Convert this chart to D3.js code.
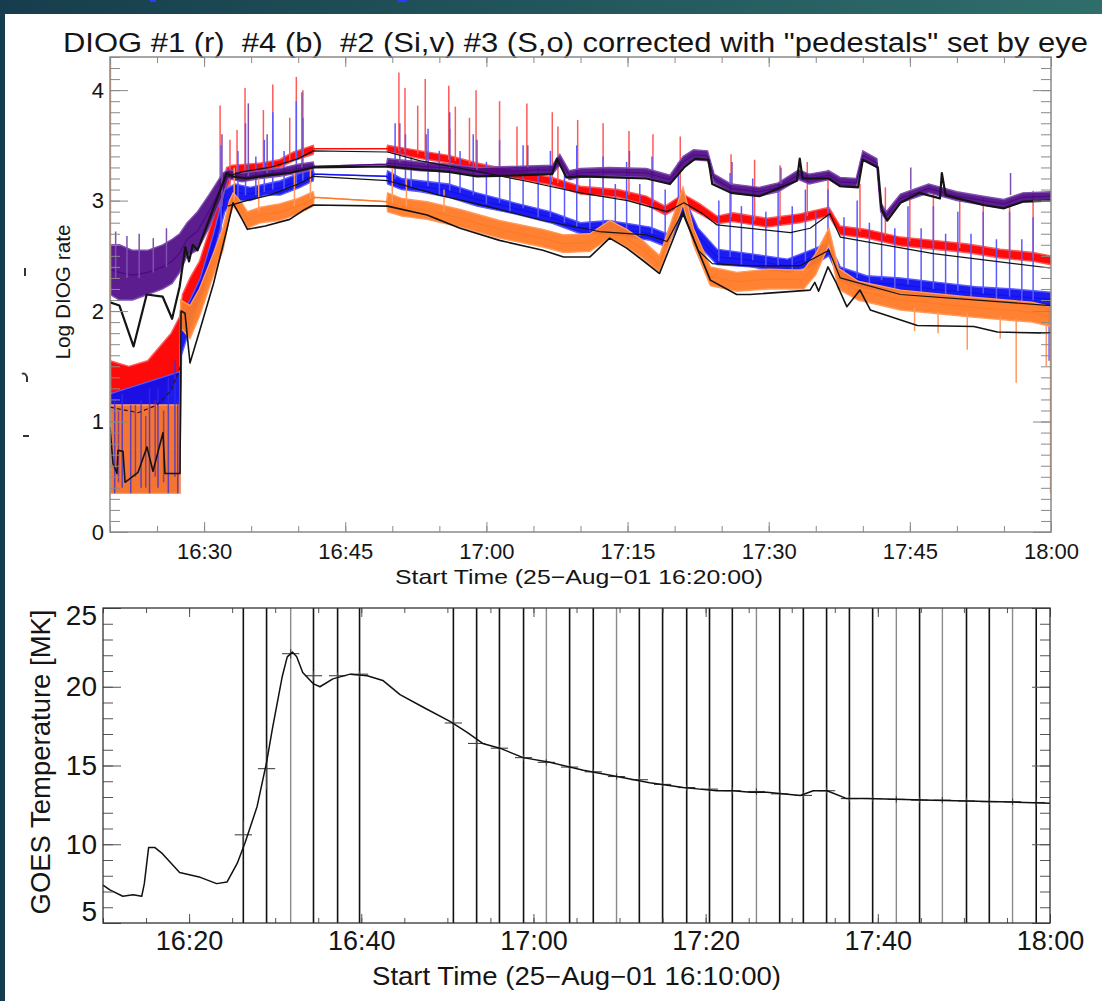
<!DOCTYPE html>
<html>
<head>
<meta charset="utf-8">
<script src="https://cdn.jsdelivr.net/npm/d3@7"></script>
<style>
  body { margin: 0; background: #fff; }
  svg { display: block; }
  text { font-family: "Liberation Sans", Arial, Helvetica, sans-serif; fill: #151515; }
</style>
</head>
<body>
<svg id="chart" width="1102" height="1001"></svg>
<script>
/* ---------- top panel data: t = minutes after 16:20, log DIOG rate ---------- */
// noisy bands as [t, low, high]
const redBand = [
  [0, 1.05, 1.55], [2, 1.02, 1.5], [4, 1.05, 1.55], [5.5, 1.15, 1.7], [6.5, 1.3, 1.8],
  [7.4, 1.45, 1.95], [7.7, 1.9, 2.15], [8.5, 2.0, 2.3], [9.5, 2.2, 2.45], [11, 2.6, 2.85],
  [12.4, 3.1, 3.3], [13, 3.22, 3.32], [14.5, 3.25, 3.33], [16, 3.27, 3.34], [18, 3.3, 3.37],
  [19.5, 3.36, 3.44], [21.6, 3.42, 3.5], [21.7, 3.47, 3.47], [29.4, 3.47, 3.47],
  [29.5, 3.44, 3.5], [33, 3.38, 3.45], [36, 3.34, 3.41], [39, 3.27, 3.34], [43, 3.2, 3.27],
  [47, 3.14, 3.21], [50, 3.06, 3.13], [54, 3.03, 3.1], [57, 2.96, 3.04], [59, 2.87, 2.95],
  [60.9, 2.96, 3.06], [62.7, 2.88, 2.97], [64.5, 2.79, 2.86], [66.2, 2.81, 2.89],
  [69.8, 2.76, 2.84], [73.3, 2.8, 2.88], [76.4, 2.86, 2.94], [77.6, 2.69, 2.77],
  [80.4, 2.66, 2.74], [84, 2.59, 2.67], [87.5, 2.56, 2.64], [91, 2.53, 2.61],
  [94.6, 2.48, 2.56], [98.1, 2.45, 2.53], [100, 2.42, 2.5]
];
const blueBand = [
  [0, 0.35, 1.25], [7.4, 0.35, 1.45], [7.6, 1.6, 1.95], [8.5, 1.85, 2.1], [9.6, 2.1, 2.3],
  [11, 2.5, 2.7], [12.2, 2.9, 3.1], [13.3, 3.0, 3.15], [14.9, 3.0, 3.12], [16.5, 3.05, 3.15],
  [18.1, 3.05, 3.18], [20.2, 3.12, 3.25], [21.6, 3.18, 3.28], [21.7, 3.24, 3.24], [29.4, 3.22, 3.22],
  [29.5, 3.15, 3.27], [31, 3.1, 3.2], [33, 3.08, 3.18], [36, 3.03, 3.15], [39, 2.95, 3.07],
  [43, 2.88, 2.98], [46.8, 2.8, 2.9], [50, 2.7, 2.8], [53, 2.7, 2.82], [57.4, 2.64, 2.76],
  [59.2, 2.58, 2.7], [60.9, 2.88, 3.05], [62.5, 2.6, 2.75], [64.5, 2.42, 2.56], [68, 2.4, 2.52],
  [72, 2.35, 2.47], [74.4, 2.4, 2.55], [76.4, 2.5, 2.62], [77.6, 2.28, 2.4], [80.4, 2.2, 2.32],
  [84, 2.18, 2.3], [88, 2.13, 2.26], [92, 2.1, 2.22], [96, 2.07, 2.2], [100, 2.04, 2.17]
];
const purpleBand = [
  [0, 2.15, 2.6], [1, 2.1, 2.6], [2.4, 2.1, 2.55], [4, 2.15, 2.55], [5.6, 2.2, 2.6],
  [6.6, 2.25, 2.65], [7.4, 2.35, 2.7], [8.2, 2.5, 2.8], [9.3, 2.55, 2.9], [10.5, 2.75, 3.05],
  [12, 3.05, 3.25], [12.6, 3.2, 3.28], [14, 3.17, 3.25], [16, 3.2, 3.27], [18, 3.22, 3.29],
  [20, 3.25, 3.33], [21.6, 3.28, 3.35], [21.7, 3.31, 3.31], [29.4, 3.33, 3.33],
  [29.5, 3.3, 3.38], [33, 3.27, 3.35], [36.1, 3.26, 3.33], [39, 3.22, 3.3], [43, 3.23, 3.31],
  [47, 3.24, 3.32], [47.8, 3.32, 3.42], [48.8, 3.19, 3.27], [50, 3.21, 3.29], [53, 3.22, 3.3],
  [57, 3.21, 3.29], [59.5, 3.15, 3.23], [60.9, 3.3, 3.4], [62, 3.37, 3.46], [63.5, 3.36, 3.45],
  [64.2, 3.16, 3.24], [66, 3.07, 3.15], [69, 3.04, 3.12], [71, 3.08, 3.16], [73.2, 3.19, 3.28],
  [74.3, 3.15, 3.24], [76.4, 3.19, 3.27], [77.6, 3.13, 3.21], [79.3, 3.12, 3.2], [80, 3.37, 3.45],
  [81.5, 3.3, 3.38], [81.9, 2.9, 2.98], [82.5, 2.82, 2.9], [84, 2.98, 3.06], [87, 3.07, 3.15],
  [90, 3.0, 3.08], [92.8, 2.96, 3.04], [95, 2.93, 3.01], [97, 2.99, 3.07], [100, 3.0, 3.08]
];
const orangeBand = [
  [0, 0.35, 1.15], [7.45, 0.35, 1.15], [7.5, 1.85, 2.1], [8.5, 1.75, 2.05], [9.5, 1.95, 2.2],
  [10.9, 2.3, 2.5], [12, 2.55, 2.75], [12.7, 2.85, 3.0], [13.1, 2.95, 3.07], [14, 2.85, 2.98],
  [14.6, 2.75, 2.9], [16, 2.8, 2.94], [18, 2.82, 2.97], [20, 2.88, 3.02], [21.6, 2.95, 3.08],
  [21.7, 3.03, 3.03], [29.4, 2.99, 2.99],
  [29.5, 2.9, 3.07], [31, 2.86, 3.02], [33.7, 2.83, 2.99], [37.2, 2.76, 2.92], [41.4, 2.66, 2.82],
  [46, 2.58, 2.74], [48.2, 2.53, 2.69], [51, 2.54, 2.7], [53.1, 2.66, 2.82], [54.9, 2.58, 2.74],
  [56.6, 2.48, 2.64], [58.4, 2.35, 2.5], [60.9, 2.97, 3.12], [62, 2.6, 2.75], [63.8, 2.23, 2.4],
  [66.6, 2.18, 2.35], [70, 2.2, 2.38], [73.7, 2.2, 2.37], [75, 2.33, 2.52], [76.4, 2.6, 2.75],
  [77.4, 2.2, 2.39], [79.5, 2.1, 2.27], [84, 2.01, 2.19], [91, 1.95, 2.13], [98, 1.9, 2.08],
  [100, 1.86, 2.04]
];

// black "pedestal" curves as [t, value]
const redPedestalDashed = [[0, 1.13], [3, 1.08], [5, 1.15], [6.5, 1.28], [7.5, 1.5]];
const redPedestal = [
  [12.5, 3.22], [14, 3.26], [17, 3.3], [20, 3.38], [21.6, 3.45], [29.5, 3.44], [33, 3.36],
  [38, 3.28], [44, 3.18], [50, 3.07], [55, 3.0], [59.2, 2.9], [61, 2.98], [63, 2.88],
  [64.5, 2.78], [72.3, 2.71], [74.4, 2.75], [76.5, 2.88], [77.6, 2.67], [87.5, 2.52], [99.9, 2.39]
];
const bluePedestal = [
  [12.5, 2.95], [14.5, 3.0], [17, 3.05], [20, 3.15], [21.6, 3.22], [29.5, 3.18], [35, 3.05],
  [40, 2.95], [46, 2.82], [52, 2.72], [57, 2.69], [59.2, 2.63], [60.9, 2.9], [62.5, 2.55],
  [64, 2.43], [68, 2.41], [73.3, 2.41], [76.4, 2.55], [77.6, 2.3], [84, 2.15], [100, 2.05]
];
const purplePedestal = [
  [0, 2.08], [1, 2.05], [2.5, 1.68], [3.9, 2.15], [5.6, 2.13], [6.6, 1.93], [7.4, 2.22],
  [8, 2.58], [8.4, 2.45], [8.8, 2.6], [9.3, 2.55], [12.4, 3.25], [13, 3.22], [14.5, 3.2],
  [17, 3.23], [19, 3.25], [21.6, 3.3], [29.5, 3.31], [33, 3.28], [36, 3.26], [39, 3.22],
  [44, 3.23], [47, 3.24], [47.5, 3.38], [48.5, 3.21], [50, 3.22], [57, 3.2], [59.5, 3.15],
  [61, 3.3], [62.2, 3.38], [63.6, 3.37], [64, 3.15], [66, 3.07], [69, 3.04], [73, 3.18],
  [73.3, 3.38], [73.6, 3.2], [76.4, 3.2], [77.6, 3.13], [79.5, 3.12], [80, 3.37], [81.6, 3.3],
  [82, 2.92], [82.6, 2.82], [84, 2.98], [86, 3.07], [88.2, 3.02], [88.4, 3.25], [88.8, 3.05],
  [92.8, 2.96], [95, 2.93], [97, 2.99], [100, 3.0]
];
const orangePedestal = [
  [0, 0.95], [0.32, 0.62], [0.74, 0.53], [0.85, 0.74], [1.38, 0.73], [1.6, 0.45], [2.98, 0.54],
  [3.93, 0.77], [4.57, 0.55], [5.63, 0.9], [5.84, 0.53], [7.44, 0.53], [7.55, 2.0], [7.97, 1.98],
  [8.5, 1.53], [9.56, 1.83], [11, 2.25], [12.4, 2.73], [13.07, 2.98], [14.1, 2.82], [14.6, 2.74],
  [16.5, 2.77], [19.1, 2.83], [20.7, 2.92], [21.6, 2.96], [29.5, 2.95], [33.7, 2.87],
  [37.2, 2.75], [41.4, 2.64], [46, 2.55], [48.2, 2.49], [51, 2.49], [53.1, 2.66], [54.9, 2.57],
  [56.6, 2.46], [58.4, 2.34], [60.9, 2.88], [63.8, 2.28], [66.6, 2.15], [68, 2.15], [74.4, 2.19],
  [74.9, 2.26], [75.3, 2.18], [76.3, 2.4], [77.2, 2.25], [78.3, 2.04], [79.7, 2.19], [80.8, 2.01],
  [85.8, 1.87], [91.8, 1.86], [94.3, 1.81], [100, 1.8]
];

// spikes as [t, base, peak]
const redSpikes = [
  [11.7, 2.7, 3.86], [12.75, 3.1, 3.55], [13.5, 3.25, 3.64], [14.35, 3.28, 4.02], [16.3, 3.3, 3.82],
  [17.3, 3.3, 4.05], [19.1, 3.35, 3.75], [19.8, 3.38, 4.12], [20.5, 3.4, 4.0],
  [30.7, 3.45, 4.16], [31.35, 3.44, 4.02], [32.7, 3.42, 3.86], [33.5, 3.4, 4.1], [36.0, 3.37, 4.04],
  [36.7, 3.36, 3.85], [38.2, 3.33, 3.75], [38.9, 3.31, 4.0], [41.4, 3.27, 3.9], [43.25, 3.24, 3.67],
  [44.3, 3.22, 3.88], [47.0, 3.17, 3.8], [47.6, 3.16, 3.67], [49.7, 3.1, 3.73], [52.4, 3.08, 3.7],
  [55.15, 3.05, 3.63], [57.7, 2.98, 3.6], [60.6, 3.0, 3.58], [66.0, 2.85, 3.42], [68.5, 2.82, 3.37],
  [71.2, 2.82, 3.32], [74.1, 2.86, 3.35], [76.3, 2.9, 3.28], [79.7, 2.72, 3.15], [82.4, 2.68, 3.12],
  [85.0, 2.63, 3.09], [87.5, 2.6, 3.06], [90.3, 2.57, 3.03], [92.8, 2.55, 3.03], [95.6, 2.51, 3.0],
  [98.1, 2.49, 3.09]
];
const blueSpikes = [
  [11.8, 2.7, 3.5], [13.6, 3.0, 3.45], [14.4, 3.05, 3.7], [15.5, 3.05, 3.4], [16.4, 3.08, 3.55],
  [17.3, 3.1, 3.8], [18.5, 3.1, 3.45], [19.8, 3.15, 3.9], [20.5, 3.18, 3.75],
  [30.3, 3.2, 3.7], [31.4, 3.15, 3.6], [33.8, 3.13, 3.65], [36.1, 3.09, 3.8], [37.2, 3.07, 3.45],
  [38.6, 3.05, 3.6], [41.4, 2.98, 3.55], [43.9, 2.93, 3.5], [46.8, 2.85, 3.45], [49.6, 2.76, 3.5],
  [52.4, 2.76, 3.4], [54.9, 2.73, 3.35], [57.6, 2.7, 3.4], [60.4, 2.8, 3.35], [65.9, 2.49, 3.25],
  [68.3, 2.46, 3.2], [71.0, 2.41, 3.15], [73.9, 2.45, 3.1], [76.3, 2.56, 3.1], [79.4, 2.3, 3.0],
  [82.0, 2.28, 2.95], [84.8, 2.24, 2.95], [87.5, 2.2, 2.95], [90.1, 2.18, 2.9], [92.8, 2.16, 2.9],
  [95.6, 2.13, 2.9], [98.1, 2.1, 2.85], [99.8, 2.05, 1.55],
  [32.0, 3.12, 3.4], [35.0, 3.05, 3.45], [40.0, 2.97, 3.35], [42.5, 2.9, 3.3], [45.5, 2.85, 3.3],
  [48.3, 2.8, 3.25], [51.0, 2.72, 3.2], [53.7, 2.72, 3.15], [56.3, 2.68, 3.15], [59.0, 2.6, 3.1],
  [64.7, 2.45, 3.0], [67.1, 2.42, 2.95], [69.7, 2.4, 2.9], [72.5, 2.37, 2.95], [75.0, 2.45, 2.9],
  [78.0, 2.3, 2.85], [80.7, 2.22, 2.8], [83.4, 2.2, 2.75], [86.2, 2.16, 2.75], [88.8, 2.14, 2.7],
  [91.5, 2.12, 2.7], [94.2, 2.1, 2.65], [96.9, 2.08, 2.65]
];
// early low-rate stripes that show through the orange trace
const blueStripesLow = [
  [0.5, 0.35, 1.2], [1.3, 0.4, 1.25], [2.2, 0.35, 1.15], [3.3, 0.4, 1.2], [4.2, 0.35, 1.3],
  [5.1, 0.4, 1.3], [6.2, 0.35, 1.4], [6.9, 0.5, 1.55], [7.2, 0.35, 1.2]
];
const purpleStripesLow = [[0.9, 0.45, 1.1], [2.7, 0.5, 1.15], [3.8, 0.4, 1.05], [4.8, 0.5, 1.2], [5.7, 0.45, 1.1]];
const purpleSpikes = [
  [0.6, 2.3, 2.72], [1.8, 2.3, 2.68], [3.1, 2.3, 2.7], [4.6, 2.35, 2.66], [6.0, 2.4, 2.75],
  [11.9, 2.95, 3.6], [14.7, 3.22, 3.88], [16.7, 3.25, 3.6], [20.4, 3.3, 3.98],
  [30.8, 3.35, 3.7], [33.6, 3.33, 3.6], [36.1, 3.3, 3.65], [39.0, 3.28, 3.55], [44.4, 3.3, 3.5],
  [55.2, 3.3, 3.45], [66.1, 3.15, 3.35], [71.3, 3.15, 3.3], [85.1, 3.1, 3.3], [95.7, 3.05, 3.25]
];
const orangeSpikes = [
  [0.05, 4.3, 0.35], [13.2, 3.0, 3.3], [15.8, 2.9, 3.2], [19.6, 2.95, 3.25], [21.3, 3.02, 3.3],
  [30.0, 2.98, 3.3], [31.5, 2.95, 3.2], [35.5, 2.9, 3.1], [85.5, 2.03, 1.82], [88, 2.0, 1.8],
  [91.1, 1.98, 1.65], [94.6, 1.95, 1.75], [96.3, 1.93, 1.35], [99.5, 1.9, 1.5], [99.95, 1.9, 0.35]
];

/* ---------- bottom panel data: t = minutes after 16:10, GOES temperature [MK] ---------- */
const goesTemp = [
  [0, 7.4], [0.8, 7.1], [2.3, 6.7], [3.5, 6.8], [4.5, 6.7], [4.8, 7.5], [5.3, 9.8], [6.0, 9.8],
  [6.9, 9.4], [8.9, 8.2], [11.3, 7.9], [13.2, 7.5], [14.4, 7.6], [15.6, 8.8], [16.5, 10.1],
  [17.9, 12.4], [19.0, 15.2], [19.7, 17.4], [20.8, 20.6], [21.4, 21.9], [22.0, 22.2], [22.5, 21.9],
  [23.2, 20.9], [24.4, 20.2], [25.2, 20.0], [26.7, 20.5], [28.7, 20.8], [30.7, 20.7], [32.5, 20.4],
  [34.5, 19.5], [37.2, 18.7], [40.3, 17.8], [42.3, 17.1], [44.1, 16.4], [46.1, 16.1], [48.8, 15.5],
  [51.9, 15.2], [55.8, 14.7], [59.7, 14.3], [63.5, 13.9], [67.4, 13.6], [69.3, 13.5], [71.3, 13.4],
  [73.2, 13.4], [75.2, 13.3], [77.1, 13.3], [81.0, 13.1], [82.5, 13.4], [84.1, 13.4], [86.4, 12.9],
  [88.7, 12.9], [96.4, 12.8], [104.2, 12.7], [110, 12.6]
];
// error crosses as [t, T, dT]
const goesErr = [
  [16.3, 10.6, 0.9], [19.0, 14.8, 1.3], [21.8, 22.1, 0.3], [24.45, 20.7, 0.3], [27.25, 20.7, 0.2],
  [29.8, 20.8, 0.2], [40.7, 17.7, 0.3], [43.4, 16.4, 0.3], [46.05, 16.1, 0.2], [48.85, 15.5, 0.2],
  [51.5, 15.2, 0.2], [54.2, 14.9, 0.2], [56.95, 14.6, 0.2], [59.65, 14.3, 0.2], [62.3, 14.1, 0.2],
  [65.0, 13.8, 0.2], [67.8, 13.6, 0.2], [70.45, 13.5, 0.2], [73.1, 13.4, 0.2], [75.9, 13.35, 0.2],
  [78.6, 13.2, 0.2], [81.35, 13.1, 0.2], [84.05, 13.4, 0.2], [86.7, 12.9, 0.2], [89.4, 12.9, 0.2],
  [92.15, 12.85, 0.2], [94.85, 12.8, 0.2], [97.5, 12.8, 0.2], [100.3, 12.75, 0.2],
  [102.95, 12.7, 0.2], [105.65, 12.7, 0.2], [108.4, 12.65, 0.2]
];
const intervalLines = [
  16.3, 19.0, 24.45, 27.25, 29.8, 40.7, 43.4, 46.05, 48.85, 54.2, 56.95, 62.3, 65.0, 67.8,
  70.45, 73.1, 78.6, 81.35, 84.05, 86.7, 89.4, 94.85, 100.3, 102.95, 108.4
];
const intervalLinesFaint = [21.8, 51.5, 59.65, 75.9, 92.15, 97.5, 105.65];

const topXMajor = [10, 25, 40, 55, 70, 85, 100];
const topYMajor = [0, 1, 2, 3, 4];
const botXMajor = [10, 30, 50, 70, 90, 110];
const botYMajor = [5, 10, 15, 20, 25];

const titleText = 'DIOG #1 (r)  #4 (b)  #2 (Si,v) #3 (S,o) corrected with "pedestals" set by eye';

/* ---------- drawing ---------- */
const svg = d3.select("#chart");

// slide frame
const defs = svg.append("defs");
const grad = defs.append("linearGradient").attr("id", "slide").attr("x1", 0).attr("x2", 1);
grad.append("stop").attr("offset", 0).attr("stop-color", "#163d4d");
grad.append("stop").attr("offset", 1).attr("stop-color", "#2f6e6b");
svg.append("rect").attr("width", 1102).attr("height", 1001).attr("fill", "url(#slide)");
svg.append("rect").attr("x", 5).attr("y", 14).attr("width", 1097).attr("height", 987).attr("fill", "#fff");
svg.append("rect").attr("x", 150).attr("y", 0).attr("width", 6).attr("height", 2).attr("fill", "#2a3cff");
svg.append("rect").attr("x", 398).attr("y", 0).attr("width", 9).attr("height", 2).attr("fill", "#2a3cff");
// stray marks at left margin
const stray = svg.append("g").attr("stroke", "#333").attr("fill", "none").attr("stroke-width", 2);
stray.append("path").attr("d", "M25,268 L25,276");
stray.append("path").attr("d", "M22,374 Q25,372 27,377 L27,382");
stray.append("path").attr("d", "M23,436 L29,436");

const mm = (m, base) => {
  const t = base + m;
  return Math.floor(t / 60) + ":" + d3.format("02")(t % 60);
};

function frameAxes(g, x, y, o) {
  const [x0, x1] = x.range();
  const [y0, y1] = y.range();
  const ax = g.append("g").attr("stroke-width", 1);
  const strip = sel => sel.call(s => s.select(".domain").remove())
    .call(s => s.selectAll("line").attr("stroke", o.tick));
  const font = s => s.selectAll("text").attr("fill", "#151515")
    .attr("font-family", '"Liberation Sans", Arial, sans-serif');

  ax.append("g").attr("transform", `translate(0,${y0})`)
    .call(d3.axisBottom(x).tickValues(o.xMinor).tickSize(-o.xMinorLen).tickFormat(""))
    .call(strip);
  ax.append("g").attr("transform", `translate(0,${y0})`)
    .call(d3.axisBottom(x).tickValues(o.xMajor).tickSize(-o.xMajorLen).tickPadding(o.xPad)
      .tickFormat(d => mm(d, o.base)))
    .call(strip).call(font)
    .call(s => s.selectAll("text").attr("font-size", o.xFont));
  ax.append("g").attr("transform", `translate(0,${y1})`)
    .call(d3.axisTop(x).tickValues(o.xMinor).tickSize(-o.xMinorLen).tickFormat(""))
    .call(strip);
  ax.append("g").attr("transform", `translate(0,${y1})`)
    .call(d3.axisTop(x).tickValues(o.xMajor).tickSize(-o.xMajorLen).tickFormat(""))
    .call(strip);

  ax.append("g").attr("transform", `translate(${x0},0)`)
    .call(d3.axisLeft(y).tickValues(o.yMinor).tickSize(-o.yMinorLen).tickFormat(""))
    .call(strip);
  ax.append("g").attr("class", "yl").attr("transform", `translate(${x0},0)`)
    .call(d3.axisLeft(y).tickValues(o.yMajor).tickSize(-o.yMajorLen).tickPadding(o.yPad)
      .tickFormat(d3.format("d")))
    .call(strip).call(font)
    .call(s => s.selectAll("text").attr("font-size", o.yFont));
  ax.append("g").attr("transform", `translate(${x1},0)`)
    .call(d3.axisRight(y).tickValues(o.yMinor).tickSize(-o.yMinorLen).tickFormat(""))
    .call(strip);
  ax.append("g").attr("transform", `translate(${x1},0)`)
    .call(d3.axisRight(y).tickValues(o.yMajor).tickSize(-o.yMajorLen).tickFormat(""))
    .call(strip);

  g.append("rect").attr("x", x0).attr("y", y1).attr("width", x1 - x0).attr("height", y0 - y1)
    .attr("fill", "none").attr("stroke", o.frame).attr("stroke-width", o.frameW);
  return ax;
}

/* ----- top panel ----- */
const xT = d3.scaleLinear().domain([0, 100]).range([110, 1051]);
const yT = d3.scaleLinear().domain([0, 4.3]).range([532, 57]);
const topG = svg.append("g");

topG.append("text").attr("x", 63).attr("y", 52).attr("font-size", 27)
  .attr("textLength", 1025).attr("lengthAdjust", "spacingAndGlyphs")
  .style("white-space", "pre").text(titleText);

const clipT = defs.append("clipPath").attr("id", "clipT");
clipT.append("rect").attr("x", 110).attr("y", 57).attr("width", 941).attr("height", 475);
const plotT = topG.append("g").attr("clip-path", "url(#clipT)");

const bandArea = d3.area().x(d => xT(d[0])).y0(d => yT(d[1])).y1(d => yT(d[2]));
const midLine = d3.line().x(d => xT(d[0])).y(d => yT((d[1] + d[2]) / 2));
const pedLine = d3.line().x(d => xT(d[0])).y(d => yT(d[1]));

function drawSpikes(spikes, color, op) {
  plotT.append("g").selectAll("line").data(spikes).join("line")
    .attr("x1", d => xT(d[0])).attr("x2", d => xT(d[0]))
    .attr("y1", d => yT(d[1])).attr("y2", d => yT(d[2]))
    .attr("stroke", color).attr("stroke-opacity", op).attr("stroke-width", 1.5);
}
function drawSeries(band, spikes, fill, light, op) {
  plotT.append("path").attr("d", bandArea(band)).attr("fill", fill).attr("fill-opacity", op)
    .attr("stroke", light).attr("stroke-width", 1.4);
  plotT.append("path").attr("d", midLine(band)).attr("fill", "none").attr("stroke", fill).attr("stroke-width", 1.2);
  drawSpikes(spikes, light, 1);
}
drawSeries(redBand, redSpikes, "#ff0a0a", "#ff5a5a", 1);
drawSeries(blueBand, blueSpikes, "#1010f0", "#5a5aff", 0.95);
drawSeries(purpleBand, purpleSpikes, "#4e0a86", "#8050b0", 0.92);
drawSeries(orangeBand, orangeSpikes, "#ff7a26", "#ff9a5c", 0.95);
drawSpikes(blueStripesLow, "#3030e8", 0.75);
drawSpikes(purpleStripesLow, "#6a2a9a", 0.7);

plotT.append("path").attr("d", pedLine(redPedestalDashed)).attr("fill", "none")
  .attr("stroke", "#3a1010").attr("stroke-width", 1.2).attr("stroke-dasharray", "4,3");
[[redPedestal, 1.2], [bluePedestal, 1.2], [orangePedestal, 1.6], [purplePedestal, 2.2]].forEach(([d, w]) => {
  plotT.append("path").attr("d", pedLine(d)).attr("fill", "none")
    .attr("stroke", "#141414").attr("stroke-width", w).attr("stroke-linejoin", "round");
});

frameAxes(topG, xT, yT, {
  base: 16 * 60 + 20,
  xMajor: topXMajor, xMinor: d3.range(0, 101, 5),
  yMajor: topYMajor, yMinor: d3.range(0, 4.31, 0.1),
  xMajorLen: 10, xMinorLen: 6, yMajorLen: 18, yMinorLen: 10,
  xPad: 11, yPad: 6, xFont: 22, yFont: 22,
  tick: "#8a8a8a", frame: "#8a8a8a", frameW: 1.5
});
topG.append("text").attr("x", 395).attr("y", 584).attr("font-size", 21)
  .attr("textLength", 368).attr("lengthAdjust", "spacingAndGlyphs")
  .text("Start Time (25\u2212Aug\u221201 16:20:00)");
topG.append("text").attr("transform", "translate(70,292) rotate(-90)").attr("text-anchor", "middle")
  .attr("font-size", 20).attr("textLength", 135).attr("lengthAdjust", "spacingAndGlyphs")
  .text("Log DIOG rate");

/* ----- bottom panel ----- */
const xB = d3.scaleLinear().domain([0, 110]).range([103, 1050]);
const yB = d3.scaleLinear().domain([5, 25]).range([923, 608]);
const botG = svg.append("g");

botG.append("g").selectAll("line").data(intervalLines).join("line")
  .attr("x1", d => xB(d)).attr("x2", d => xB(d)).attr("y1", 608).attr("y2", 923)
  .attr("stroke", "#111").attr("stroke-width", 1.6);
botG.append("g").selectAll("line").data(intervalLinesFaint).join("line")
  .attr("x1", d => xB(d)).attr("x2", d => xB(d)).attr("y1", 608).attr("y2", 923)
  .attr("stroke", "#8a8a8a").attr("stroke-width", 1.4);

const errG = botG.append("g").attr("stroke", "#444").attr("stroke-width", 1.1);
errG.selectAll("line.h").data(goesErr).join("line").attr("class", "h")
  .attr("x1", d => xB(d[0] - 1)).attr("x2", d => xB(d[0] + 1))
  .attr("y1", d => yB(d[1])).attr("y2", d => yB(d[1]));
errG.selectAll("line.v").data(goesErr).join("line").attr("class", "v")
  .attr("x1", d => xB(d[0])).attr("x2", d => xB(d[0]))
  .attr("y1", d => yB(d[1] - d[2])).attr("y2", d => yB(d[1] + d[2]));

botG.append("path").attr("d", d3.line().x(d => xB(d[0])).y(d => yB(d[1]))(goesTemp))
  .attr("fill", "none").attr("stroke", "#111").attr("stroke-width", 1.5).attr("stroke-linejoin", "round");

const axB = frameAxes(botG, xB, yB, {
  base: 16 * 60 + 10,
  xMajor: botXMajor, xMinor: d3.range(0, 111, 5),
  yMajor: botYMajor, yMinor: d3.range(5, 25.1, 1),
  xMajorLen: 9, xMinorLen: 5, yMajorLen: 18, yMinorLen: 10,
  xPad: 8, yPad: 6, xFont: 27, yFont: 28,
  tick: "#555", frame: "#333", frameW: 1.3
});
axB.selectAll(".yl text").attr("dy", d => d === 25 ? "0.6em" : d === 5 ? "-0.1em" : "0.32em");

botG.append("text").attr("x", 372).attr("y", 985).attr("font-size", 25)
  .attr("textLength", 409).attr("lengthAdjust", "spacingAndGlyphs")
  .text("Start Time (25\u2212Aug\u221201 16:10:00)");
botG.append("text").attr("transform", "translate(50,762) rotate(-90)").attr("text-anchor", "middle")
  .attr("font-size", 28).attr("textLength", 305).attr("lengthAdjust", "spacingAndGlyphs")
  .text("GOES Temperature [MK]");
</script>
</body>
</html>
